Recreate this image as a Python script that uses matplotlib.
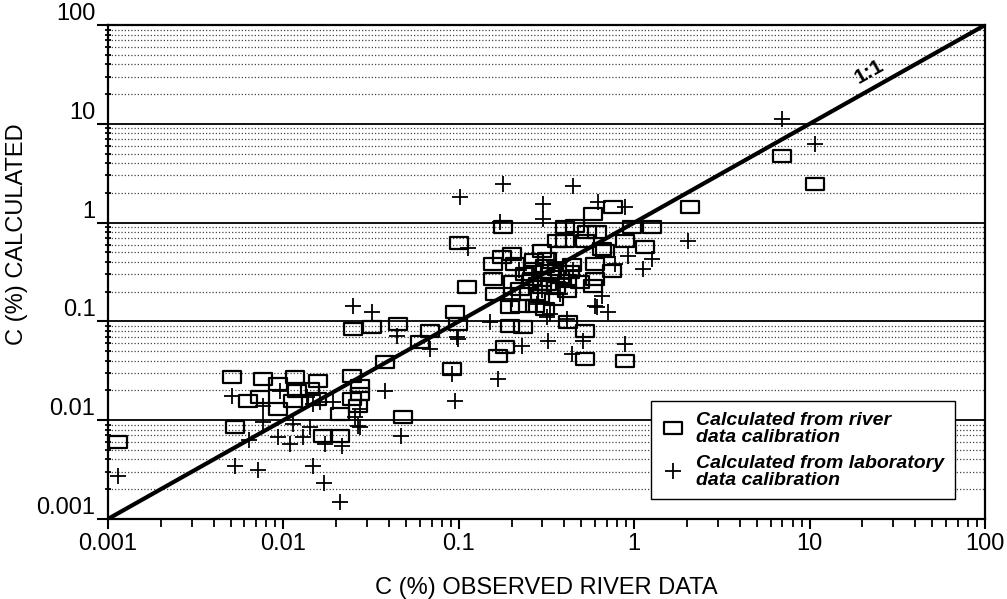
import numpy as np
import matplotlib
matplotlib.use('Agg')
import matplotlib.pyplot as plt
from matplotlib.path import Path
from matplotlib.ticker import LogLocator, NullFormatter

plt.rcParams['font.family'] = ['Liberation Sans', 'DejaVu Sans']

# observed (x) vs calculated (y), river data calibration (open boxes)
river_obs = [0.00114, 0.0051, 0.0053, 0.0063, 0.0077, 0.0074, 0.0093, 0.0093, 0.0116, 0.0120,
             0.0114, 0.0142, 0.0157, 0.0156, 0.0168, 0.0210, 0.0210, 0.0246, 0.0273, 0.0273,
             0.0246, 0.0266, 0.0379, 0.048, 0.0249, 0.0320, 0.0450, 0.0686, 0.095, 0.099,
             0.060, 0.0915, 0.100, 0.111, 0.179, 0.167, 0.183, 0.196, 0.232, 0.196,
             0.310, 0.420, 0.524, 0.524, 0.887, 0.157, 0.157, 0.161, 0.209, 0.176,
             0.201, 0.298, 0.298, 0.363, 0.403, 0.460, 0.582, 0.757, 0.538, 0.614,
             0.682, 0.887, 0.971, 1.26, 1.15, 0.598, 0.598, 0.582, 0.747, 0.318,
             0.363, 0.265, 0.261, 0.223, 0.290, 0.223, 0.272, 0.414, 0.414, 0.283,
             0.318, 2.08, 0.403, 0.524, 0.655, 0.431, 0.491, 0.204, 6.96, 10.7,
             0.24, 0.33, 0.25, 0.35, 0.27, 0.31, 0.38, 0.44, 0.36, 0.30]
river_calc = [0.0060, 0.0274, 0.0085, 0.0156, 0.0261, 0.0172, 0.0232, 0.0130, 0.0274, 0.0198,
              0.0156, 0.0207, 0.0249, 0.0164, 0.0069, 0.0116, 0.0069, 0.0280, 0.0222, 0.0184,
              0.0164, 0.0139, 0.0388, 0.0108, 0.0837, 0.0877, 0.094, 0.080, 0.124, 0.094,
              0.0619, 0.033, 0.622, 0.223, 0.903, 0.0447, 0.0551, 0.0898, 0.0877, 0.140,
              0.134, 0.0986, 0.080, 0.0416, 0.0397, 0.381, 0.269, 0.189, 0.381, 0.449,
              0.481, 0.516, 0.223, 0.651, 0.903, 0.925, 1.22, 1.44, 0.804, 0.804,
              0.516, 0.651, 0.903, 0.903, 0.566, 0.381, 0.269, 0.228, 0.324, 0.428,
              0.339, 0.339, 0.269, 0.213, 0.181, 0.143, 0.143, 0.256, 0.203, 0.239,
              0.239, 1.44, 0.651, 0.651, 0.541, 0.316, 0.250, 0.250, 4.72, 2.46,
              0.30, 0.30, 0.19, 0.17, 0.42, 0.36, 0.28, 0.37, 0.22, 0.26]

# laboratory data calibration (crosses)
lab_obs = [0.0051, 0.00114, 0.0077, 0.0064, 0.0093, 0.0109, 0.0114, 0.0129, 0.0142, 0.0053,
           0.0072, 0.0148, 0.0170, 0.0210, 0.0173, 0.0216, 0.0273, 0.0379, 0.0077, 0.0096,
           0.0148, 0.0256, 0.0273, 0.0136, 0.0162, 0.0192, 0.0249, 0.0320, 0.0444, 0.0686,
           0.099, 0.0915, 0.095, 0.047, 0.0266, 0.179, 0.448, 0.1016, 0.302, 0.302,
           0.622, 0.887, 0.172, 0.113, 0.922, 1.26, 1.12, 0.778, 0.655, 0.598,
           0.709, 0.151, 0.414, 0.323, 0.229, 0.887, 0.442, 0.511, 0.167, 0.0977,
           0.318, 0.614, 6.96, 10.7, 2.03,
           0.26, 0.30, 0.35, 0.40, 0.22, 0.28, 0.33, 0.38, 0.45, 0.20]
lab_calc = [0.0176, 0.0027, 0.0096, 0.0063, 0.0068, 0.0057, 0.0092, 0.0068, 0.0085, 0.0034,
            0.0031, 0.0034, 0.0023, 0.0015, 0.0057, 0.0055, 0.0085, 0.0198, 0.0139, 0.0198,
            0.0146, 0.0108, 0.0130, 0.0172, 0.0153, 0.0153, 0.143, 0.124, 0.071, 0.0526,
            0.0664, 0.0294, 0.0156, 0.0069, 0.0087, 2.46, 2.35, 1.82, 1.54, 1.09,
            1.62, 1.44, 1.01, 0.553, 0.459, 0.428, 0.339, 0.381, 0.181, 0.143,
            0.124, 0.0986, 0.106, 0.0634, 0.0564, 0.059, 0.0468, 0.0634, 0.0261, 0.0695,
            0.111, 0.140, 11.2, 6.25, 0.651,
            0.30, 0.21, 0.40, 0.27, 0.33, 0.15, 0.12, 0.19, 0.33, 0.17]

one_to_one = [0.001, 100]

box = Path([(-1, -0.68), (1, -0.68), (1, 0.68), (-1, 0.68), (-1, -0.68)],
           [Path.MOVETO, Path.LINETO, Path.LINETO, Path.LINETO, Path.CLOSEPOLY])

fig = plt.figure(figsize=(10.07, 5.99), dpi=100)
ax = fig.add_axes([0.1072, 0.1336, 0.871, 0.8246])
ax.set_xscale('log')
ax.set_yscale('log')
ax.set_xlim(0.001, 100)
ax.set_ylim(0.001, 100)

# horizontal grid only: solid at decades, dotted in between
ax.yaxis.set_minor_locator(LogLocator(base=10, subs=np.arange(2, 10)))
ax.xaxis.set_minor_locator(LogLocator(base=10, subs=np.arange(2, 10)))
ax.yaxis.set_minor_formatter(NullFormatter())
ax.xaxis.set_minor_formatter(NullFormatter())
ax.grid(False)
ax.yaxis.grid(True, which='major', color='black', lw=1.3, ls='-')
ax.yaxis.grid(True, which='minor', color='#444444', lw=0.9, ls=(0, (1, 1.6)))
ax.set_axisbelow(True)

ax.plot(one_to_one, one_to_one, color='black', lw=3, zorder=3)
ax.text(22, 34, '1:1', rotation=29.4, fontsize=15, fontweight='bold',
        ha='center', va='center')

ax.plot(river_obs, river_calc, ls='none', marker=box, ms=13, mfc='none',
        mec='black', mew=1.6, zorder=4,
        label='Calculated from river\ndata calibration')
ax.plot(lab_obs, lab_calc, ls='none', marker='+', ms=11, mec='black',
        mew=1.3, zorder=4,
        label='Calculated from laboratory\ndata calibration')

ticks = [0.001, 0.01, 0.1, 1, 10, 100]
tick_labels = ['0.001', '0.01', '0.1', '1', '10', '100']
ax.set_xticks(ticks)
ax.set_xticklabels(tick_labels)
ax.set_yticks(ticks)
ax.set_yticklabels(tick_labels)
ax.tick_params(axis='x', which='major', direction='out', length=7, width=1.5,
               labelsize=17, pad=3)
ax.tick_params(axis='x', which='minor', direction='out', length=6, width=1.3)
ax.tick_params(axis='y', which='major', direction='out', length=8, width=1.5,
               labelsize=17, pad=1)
ax.tick_params(axis='y', which='minor', direction='inout', length=5, width=1.3)
for lab in ax.get_yticklabels():
    lab.set_verticalalignment('bottom')

for s in ax.spines.values():
    s.set_linewidth(1.6)

ax.set_xlabel('C (%) OBSERVED RIVER DATA', fontsize=17, labelpad=16)
ax.set_ylabel('C (%) CALCULATED', fontsize=17)
ax.yaxis.set_label_coords(-0.091, 0.577)

leg = ax.legend(loc='lower right', bbox_to_anchor=(0.966, 0.04),
                prop={'weight': 'bold', 'style': 'italic', 'size': 14},
                frameon=True, fancybox=False, framealpha=1, edgecolor='black',
                handlelength=1.2, handletextpad=0.6, labelspacing=0.45,
                borderpad=0.55, borderaxespad=0)
leg.get_frame().set_linewidth(1.0)
for t in leg.get_texts():
    t.set_linespacing(1.0)

fig.savefig('out.png', dpi=100, facecolor='white')
